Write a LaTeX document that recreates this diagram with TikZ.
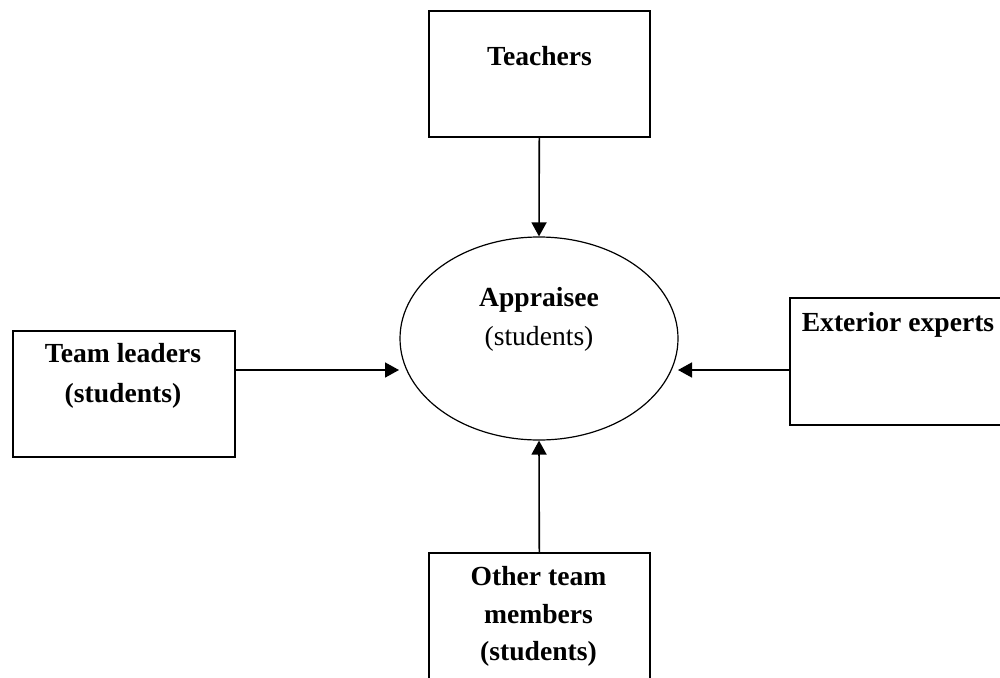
\documentclass[tikz,border=0pt]{standalone}
\usepackage{fontspec}
\setmainfont{Liberation Serif}
\usetikzlibrary{arrows.meta,shapes.geometric}
\begin{document}
\begin{tikzpicture}[x=1pt,y=-1pt,
  box/.style={draw,line width=1.6pt,rectangle,inner sep=0pt,anchor=north west},
  lbl/.style={anchor=base,inner sep=0pt,font=\fontsize{27.6}{32}\selectfont\bfseries},
  lbln/.style={anchor=base,inner sep=0pt,font=\fontsize{27.6}{32}\selectfont},
  conn/.style={line width=1.6pt,-{Triangle[length=14pt,width=15pt]}}]
\useasboundingbox (0,0) rectangle (1000,677);
\clip (0,0) rectangle (1000,677);
% boxes
\node[box,minimum width=221pt,minimum height=126pt] (teach) at (428,10) {};
\node[box,minimum width=222pt,minimum height=126pt] (tl) at (12,330) {};
\node[box,minimum width=225pt,minimum height=127pt] (ext) at (789,297) {};
\node[box,minimum width=221pt,minimum height=135pt] (oth) at (428,552) {};
\node[draw,ellipse,line width=1.2pt,minimum width=278pt,minimum height=203pt,inner sep=0pt] (app) at (539,338.5) {};
% texts
\node[lbl] (tteach) at (539.5,65) {Teachers};
\node[lbl] (tapp) at (539,306) {Appraisee};
\node[lbln] (tapps) at (539,345) {(students)};
\node[lbl] (ttl1) at (123,362) {Team leaders};
\node[lbl] (ttl2) at (123,402) {(students)};
\node[lbl] (text) at (898,331) {Exterior experts};
\node[lbl] (toth1) at (538.5,585) {Other team};
\node[lbl] (toth2) at (538.5,623) {members};
\node[lbl] (toth3) at (538.5,660) {(students)};
% connectors
\coordinate (lt) at (399,370);
\coordinate (rt) at (678,370);
\draw[conn] (teach.south) -- (app.north);
\draw[conn] (tl.east |- lt) -- (lt);
\draw[conn] (ext.west |- rt) -- (rt);
\draw[conn] (oth.north) -- (app.south);
\end{tikzpicture}
\end{document}
